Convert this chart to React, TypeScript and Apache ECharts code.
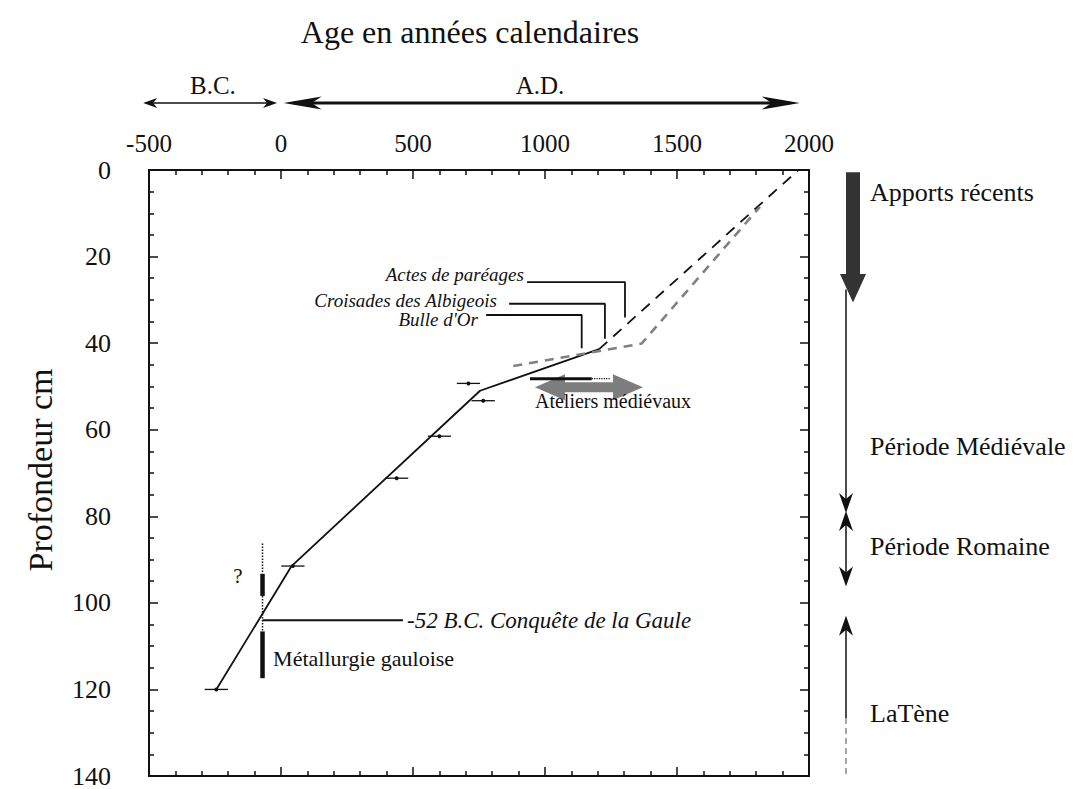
import React, { useEffect, useRef } from "react";
import * as echarts from "echarts";

// ---------- data ----------
const xTickLabels = [-500, 0, 500, 1000, 1500, 2000];
const yTickLabels = [0, 20, 40, 60, 80, 100, 120, 140];

// age-depth model (year, depth cm)
const ageModel = [[-245, 120], [40, 91.5], [754, 51], [1205, 41.4]];
const recentModel = [[1205, 41.4], [1960, 0]];
const altModel = [[880, 45.3], [1366, 40.1], [1814, 8.5]];

// dated samples: year, depth, half error (years)
const sampleYears = [-245, 45, 438, 600, 710, 766];
const sampleDepths = [120, 91.5, 71.2, 61.5, 49.3, 53.3];
const sampleErrors = [44, 44, 44, 44, 44, 44];

// historical events
const eventNames = ["Actes de paréages", "Croisades des Albigeois", "Bulle d'Or"];
const eventYears = [1303, 1227, 1139];
const eventLeaderStart = [932, 864, 777];
const eventLeaderDepth = [25.9, 30.9, 33.5];
const eventEndDepth = [34.1, 39.0, 41.2];
const eventLabelYear = [920, 818, 746];
const eventLabelDepth = [24.2, 30.2, 34.6];

// conquest of Gaul
const conquestLabel = "-52 B.C. Conquête de la Gaule";
const conquestYear = -70;
const conquestDepth = 104;
const conquestLineEnd = 462;

// Gallic metallurgy
const metalLabel = "Métallurgie gauloise";
const metalThick = [[93.3, 98.4], [106.6, 117.4]];
const metalDotted = [[86.3, 93.3], [98.4, 106.6]];
const metalLabelPos = [-30, 112.8];
const questionPos = [-163, 93.7];

// medieval workshops
const atelierLabel = "Ateliers médiévaux";
const atelierBar = [943, 1177];
const atelierBarDotted = [1177, 1246];
const atelierBarDepth = 48.2;
const atelierArrow = [962, 1371];
const atelierArrowDepth = 50.2;
const atelierLabelPos = [962, 53.4];

// periods (right column, depth cm)
const periodNames = ["Apports récents", "Période Médiévale", "Période Romaine", "LaTène"];
const periodLabelDepths = [5.3, 63.8, 87, 125.5];
const recentArrow = [0.5, 24, 30.6]; // top, head start, tip
const medievalRange = [27.6, 79];
const romanRange = [79, 96.2];
const lateneRange = [103, 126.6, 140];

const SERIF = "'Liberation Serif', 'Times New Roman', serif";
const INK = "#111";

function stealth(tx: number, ty: number, dx: number, dy: number, len: number, half: number, notch: number) {
  const px = -dy, py = dx;
  const bx = tx - dx * len, by = ty - dy * len;
  const nx = tx - dx * (len - notch), ny = ty - dy * (len - notch);
  return [[tx, ty], [bx + px * half, by + py * half], [nx, ny], [bx - px * half, by - py * half]];
}

export default function App() {
  const ref = useRef<HTMLDivElement>(null);
  useEffect(() => {
    if (!ref.current) return;
    const chart = echarts.init(ref.current, undefined, { renderer: "svg" });

    const axisCommon = {
      type: "value" as const,
      axisLine: { show: true, onZero: false, lineStyle: { color: INK, width: 2 } },
      axisTick: { show: true, inside: true, length: 9, lineStyle: { color: INK, width: 1.5 } },
      minorTick: { show: true, length: 5, lineStyle: { color: INK, width: 1.5 } },
      splitLine: { show: false },
      minorSplitLine: { show: false },
    };

    const seg = (data: number[][], style: any, z = 3) => ({
      type: "line",
      data,
      showSymbol: false,
      symbol: "none",
      lineStyle: style,
      z,
      silent: true,
    });

    const series: any[] = [];
    series.push(seg(ageModel, { color: INK, width: 1.8 }));
    series.push(seg(recentModel, { color: INK, width: 1.8, type: [11, 8] }));
    series.push(seg(altModel, { color: "#808080", width: 2.6, type: [9, 7] }));

    series.push({
      type: "custom",
      data: sampleYears.map((y, i) => [y, sampleDepths[i], sampleErrors[i]]),
      encode: { x: 0, y: 1 },
      z: 4,
      renderItem: (_p: any, api: any) => {
        const x = api.value(0), d = api.value(1), e = api.value(2);
        const a = api.coord([x - e, d]);
        const b = api.coord([x + e, d]);
        const c = api.coord([x, d]);
        return {
          type: "group",
          children: [
            { type: "line", shape: { x1: a[0], y1: a[1], x2: b[0], y2: b[1] }, style: { stroke: INK, lineWidth: 1.3 } },
            { type: "circle", shape: { cx: c[0], cy: c[1], r: 2 }, style: { fill: INK } },
          ],
        };
      },
    });

    eventNames.forEach((_n, i) => {
      series.push(
        seg(
          [
            [eventLeaderStart[i], eventLeaderDepth[i]],
            [eventYears[i], eventLeaderDepth[i]],
            [eventYears[i], eventEndDepth[i]],
          ],
          { color: INK, width: 1.8 }
        )
      );
    });

    series.push(seg([[conquestYear, conquestDepth], [conquestLineEnd, conquestDepth]], { color: INK, width: 2 }));
    metalThick.forEach((r) => series.push(seg([[conquestYear, r[0]], [conquestYear, r[1]]], { color: INK, width: 4.5 })));
    metalDotted.forEach((r) => series.push(seg([[conquestYear, r[0]], [conquestYear, r[1]]], { color: INK, width: 1.5, type: "dotted" })));

    series.push({
      type: "custom",
      data: [[atelierArrow[0], atelierArrow[1], atelierArrowDepth]],
      encode: { x: [0, 1], y: 2 },
      z: 2,
      renderItem: (_p: any, api: any) => {
        const s = api.coord([api.value(0), api.value(2)]);
        const e = api.coord([api.value(1), api.value(2)]);
        const y = s[1];
        const HL = 30, HH = 13, SH = 5;
        return {
          type: "polygon",
          shape: {
            points: [
              [s[0], y], [s[0] + HL, y - HH], [s[0] + HL, y - SH], [e[0] - HL, y - SH], [e[0] - HL, y - HH],
              [e[0], y], [e[0] - HL, y + HH], [e[0] - HL, y + SH], [s[0] + HL, y + SH], [s[0] + HL, y + HH],
            ],
          },
          style: { fill: "#7d7d7d" },
        };
      },
    });
    series.push(seg([[atelierBar[0], atelierBarDepth], [atelierBar[1], atelierBarDepth]], { color: INK, width: 3 }, 5));
    series.push(seg([[atelierBarDotted[0], atelierBarDepth], [atelierBarDotted[1], atelierBarDepth]], { color: INK, width: 1.2, type: "dotted" }, 5));

    chart.setOption({
      animation: false,
      backgroundColor: "#fff",
      grid: { left: 149, top: 170, width: 660, height: 608 },
      xAxis: [
        {
          ...axisCommon,
          position: "top",
          min: xTickLabels[0],
          max: xTickLabels[xTickLabels.length - 1],
          interval: 500,
          minorTick: { ...axisCommon.minorTick, splitNumber: 5 },
          axisLabel: { fontFamily: SERIF, fontSize: 25, color: INK, margin: 14, formatter: (v: number) => String(v) },
        },
        {
          ...axisCommon,
          position: "bottom",
          min: xTickLabels[0],
          max: xTickLabels[xTickLabels.length - 1],
          interval: 500,
          minorTick: { ...axisCommon.minorTick, splitNumber: 5 },
          axisLabel: { show: false },
        },
      ],
      yAxis: [
        {
          ...axisCommon,
          position: "left",
          inverse: true,
          min: yTickLabels[0],
          max: yTickLabels[yTickLabels.length - 1],
          interval: 20,
          minorTick: { ...axisCommon.minorTick, splitNumber: 4 },
          axisLabel: { fontFamily: SERIF, fontSize: 26, color: INK, margin: 38, formatter: (v: number) => String(v) },
        },
        {
          ...axisCommon,
          position: "right",
          inverse: true,
          min: yTickLabels[0],
          max: yTickLabels[yTickLabels.length - 1],
          interval: 20,
          minorTick: { ...axisCommon.minorTick, splitNumber: 4 },
          axisLabel: { show: false },
        },
      ],
      series,
    });

    const px = (v: number) => chart.convertToPixel({ xAxisIndex: 0 }, v) as number;
    const py = (d: number) => chart.convertToPixel({ yAxisIndex: 0 }, d) as number;

    const g: any[] = [];
    const text = (x: number, y: number, t: string, size: number, align = "center", italic = false) => ({
      type: "text",
      x,
      y,
      z: 10,
      style: {
        text: t,
        fontFamily: SERIF,
        fontSize: size,
        fontStyle: italic ? "italic" : "normal",
        fill: INK,
        align,
        verticalAlign: "middle",
      },
    });
    g.push(text(470, 32, "Age en années calendaires", 32));
    g.push(text(px(-258), 85, "B.C.", 25));
    g.push(text(px(981), 85, "A.D.", 25));
    g.push({
      type: "text",
      x: 40,
      y: 470,
      rotation: Math.PI / 2,
      style: { text: "Profondeur cm", fontFamily: SERIF, fontSize: 34, fill: INK, align: "center", verticalAlign: "middle" },
    });

    // in-plot labels
    eventNames.forEach((n, i) => g.push(text(px(eventLabelYear[i]), py(eventLabelDepth[i]), n, 19, "right", true)));
    g.push(text(px(conquestLineEnd) + 4, py(conquestDepth), conquestLabel, 23, "left", true));
    g.push(text(px(metalLabelPos[0]), py(metalLabelPos[1]), metalLabel, 22, "left"));
    g.push(text(px(questionPos[0]), py(questionPos[1]), "?", 21, "center"));
    g.push(text(px(atelierLabelPos[0]), py(atelierLabelPos[1]), atelierLabel, 20, "left"));

    // B.C. arrow
    const ay = 103;
    const bcL = px(-522), bcR = px(-15);
    g.push({ type: "line", shape: { x1: bcL + 4, y1: ay, x2: bcR - 4, y2: ay }, style: { stroke: INK, lineWidth: 1.5 } });
    g.push({ type: "polygon", shape: { points: stealth(bcL, ay, -1, 0, 14, 5, 4) }, style: { fill: INK } });
    g.push({ type: "polygon", shape: { points: stealth(bcR, ay, 1, 0, 14, 5, 4) }, style: { fill: INK } });
    // A.D. arrow
    const adL = px(10), adR = px(1965);
    g.push({ type: "line", shape: { x1: adL + 10, y1: ay, x2: adR - 10, y2: ay }, style: { stroke: INK, lineWidth: 3 } });
    g.push({ type: "polygon", shape: { points: stealth(adL, ay, -1, 0, 38, 6.5, 10) }, style: { fill: INK } });
    g.push({ type: "polygon", shape: { points: stealth(adR, ay, 1, 0, 38, 6.5, 10) }, style: { fill: INK } });

    // right column
    const lx = 846;
    const bx = 853;
    g.push({
      type: "polygon",
      shape: {
        points: [
          [bx - 7, py(recentArrow[0])], [bx + 7, py(recentArrow[0])], [bx + 7, py(recentArrow[1])],
          [bx + 13, py(recentArrow[1])], [bx, py(recentArrow[2])], [bx - 13, py(recentArrow[1])], [bx - 7, py(recentArrow[1])],
        ],
      },
      style: { fill: "#333" },
    });
    g.push({ type: "line", shape: { x1: lx, y1: py(medievalRange[0]), x2: lx, y2: py(medievalRange[1]) - 6 }, style: { stroke: INK, lineWidth: 1.5 } });
    g.push({ type: "polygon", shape: { points: stealth(lx, py(medievalRange[1]) + 1, 0, 1, 20, 7, 6) }, style: { fill: INK } });
    g.push({ type: "polygon", shape: { points: stealth(lx, py(romanRange[0]) - 1, 0, -1, 20, 7, 6) }, style: { fill: INK } });
    g.push({ type: "line", shape: { x1: lx, y1: py(romanRange[0]) + 6, x2: lx, y2: py(romanRange[1]) - 6 }, style: { stroke: INK, lineWidth: 1.5 } });
    g.push({ type: "polygon", shape: { points: stealth(lx, py(romanRange[1]), 0, 1, 20, 7, 6) }, style: { fill: INK } });
    g.push({ type: "polygon", shape: { points: stealth(lx, py(lateneRange[0]), 0, -1, 20, 7, 6) }, style: { fill: INK } });
    g.push({ type: "line", shape: { x1: lx, y1: py(lateneRange[0]) + 6, x2: lx, y2: py(lateneRange[1]) }, style: { stroke: INK, lineWidth: 1.5 } });
    g.push({ type: "line", shape: { x1: lx, y1: py(lateneRange[1]), x2: lx, y2: py(lateneRange[2]) }, style: { stroke: "#888", lineWidth: 1.5, lineDash: [6, 4] } });
    periodNames.forEach((n, i) => g.push(text(870, py(periodLabelDepths[i]), n, 26, "left")));

    chart.setOption({ graphic: g });

    return () => chart.dispose();
  }, []);

  return <div ref={ref} style={{ position: "fixed", left: 0, top: 0, width: 1077, height: 789, background: "#fff" }} />;
}
